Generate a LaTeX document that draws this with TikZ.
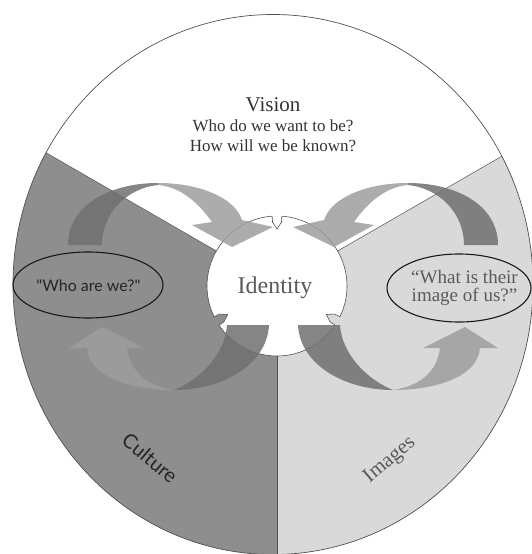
\documentclass[tikz,border=0pt]{standalone}
\usepackage{fontspec}
\setmainfont{Liberation Serif}
\newfontfamily\handfont{Lato}
\usetikzlibrary{calc}
\definecolor{culturegray}{HTML}{8E8E8E}
\definecolor{imagegray}{HTML}{D9D9D9}
\definecolor{arrowdark}{HTML}{707070}
\definecolor{arrowlight}{HTML}{9E9E9E}
\definecolor{linegray}{HTML}{505050}
\definecolor{textdark}{HTML}{333333}
\definecolor{textmid}{HTML}{5A5A5A}
\tikzset{
  rim/.style={draw=linegray, line width=0.7pt},
  sectorline/.style={draw=linegray, line width=0.5pt},
  arrowd/.style={fill=arrowdark, fill opacity=0.85},
  arrowl/.style={fill=arrowlight, fill opacity=0.85},
  bubble/.style={draw=black!90, line width=1.1pt},
  serifbig/.style={font=\fontsize{21}{21}\selectfont, text=textdark, anchor=base},
  serifq/.style={font=\fontsize{17}{17}\selectfont, text=textdark, anchor=base},
}
\begin{document}
\begin{tikzpicture}[x=1pt,y=-1pt]
\useasboundingbox (0,0) rectangle (531,554);
\coordinate (C) at (277,286);
\coordinate (E) at (273,284.5);
\coordinate (BL) at (45.9,152.6);
\coordinate (BR) at (501.7,156.3);
\coordinate (BB) at (277,554.5);
% sectors
\begin{scope}
\clip (E) ellipse [x radius=260pt, y radius=270pt];
\fill[culturegray] (C) -- (-70,86) -- (-70,600) -- (277,600) -- cycle;
\fill[imagegray] (C) -- (624,86) -- (624,600) -- (277,600) -- cycle;
\end{scope}
\draw[sectorline] (C) -- (BL);
\draw[sectorline] (C) -- (BR);
\draw[sectorline] (C) -- (BB);
\draw[rim] (E) ellipse [x radius=260pt, y radius=270pt];
% identity disc with notches
\filldraw[fill=white, draw=linegray, line width=0.6pt]
  plot[domain=-86:26, samples=40] ({277+70*cos(\x)},{286+70*sin(\x)})
  -- ({277+64*cos(26)},{286+64*sin(26)}) -- ({277+57*cos(30)},{286+57*sin(30)}) -- ({277+64*cos(34)},{286+64*sin(34)})
  -- plot[domain=34:146, samples=40] ({277+70*cos(\x)},{286+70*sin(\x)})
  -- ({277+64*cos(146)},{286+64*sin(146)}) -- ({277+57*cos(150)},{286+57*sin(150)}) -- ({277+64*cos(154)},{286+64*sin(154)})
  -- plot[domain=154:266, samples=40] ({277+70*cos(\x)},{286+70*sin(\x)})
  -- ({277+64*cos(266)},{286+64*sin(266)}) -- ({277+57*cos(270)},{286+57*sin(270)}) -- ({277+64*cos(274)},{286+64*sin(274)})
  -- cycle;
% top-left arch
\path[arrowd] (68,245) .. controls (68,205) and (110,183) .. (158,183) -- (158,185)
  .. controls (128,188) and (102,212) .. (102,245) -- cycle;
\path[arrowl] (158,183) .. controls (200,183) and (235,198) .. (242,220) -- (273,227) -- (232,247) -- (192,225) -- (212,222)
  .. controls (200,205) and (182,187) .. (158,185) -- cycle;
% top-right arch (mirror about x=283)
\path[arrowd] (498,245) .. controls (498,205) and (456,183) .. (408,183) -- (408,185)
  .. controls (438,188) and (464,212) .. (464,245) -- cycle;
\path[arrowl] (408,183) .. controls (366,183) and (331,198) .. (324,220) -- (293,227) -- (334,247) -- (374,225) -- (354,222)
  .. controls (366,205) and (384,187) .. (408,185) -- cycle;
% bottom-right arrow
\path[arrowd] (298,325) .. controls (300,365) and (345,390) .. (393,390)
  .. controls (368,380) and (342,355) .. (340,325) -- cycle;
\path[arrowl] (393,390) .. controls (440,390) and (478,375) .. (480,348) -- (498,348) -- (465,327) -- (423,348) -- (440,348)
  .. controls (437,372) and (420,386) .. (393,390) -- cycle;
% bottom-left arrow (mirror about x=283.5)
\path[arrowd] (269,325) .. controls (267,365) and (222,390) .. (174,390)
  .. controls (199,380) and (225,355) .. (227,325) -- cycle;
\path[arrowl] (174,390) .. controls (127,390) and (89,375) .. (87,348) -- (69,348) -- (102,327) -- (144,348) -- (127,348)
  .. controls (130,372) and (147,386) .. (174,390) -- cycle;
% speech bubbles
\draw[bubble] (88,285) ellipse [x radius=75pt, y radius=33pt];
\draw[bubble] (459,288) ellipse [x radius=72pt, y radius=34pt];
% texts
\node[serifbig] (vision) at (273,111) {Vision};
\node[serifq] (q1) at (273,131.5) {Who do we want to be?};
\node[serifq] (q2) at (273,151.5) {How will we be known?};
\node[anchor=base, text=textmid, font=\fontsize{24}{24}\selectfont] (identity) at (275,293) {Identity};
\node[anchor=base, text=black!85, font=\handfont\fontsize{16}{16}\selectfont] (who) at (88.5,291) {"Who are we?"};
\node[anchor=base, text=textmid, font=\fontsize{19}{19}\selectfont] (what1) at (464.5,283.3) {``What is their};
\node[anchor=base, text=textmid, font=\fontsize{19}{19}\selectfont] (what2) at (464.5,301.7) {image of us?''};
\node[rotate=-40, text=black!85, font=\handfont\fontsize{20}{20}\selectfont] (culture) at (150,458) {Culture};
\node[rotate=40, text=textmid, font=\fontsize{21}{21}\selectfont] (images) at (390,460) {Images};
\end{tikzpicture}
\end{document}
